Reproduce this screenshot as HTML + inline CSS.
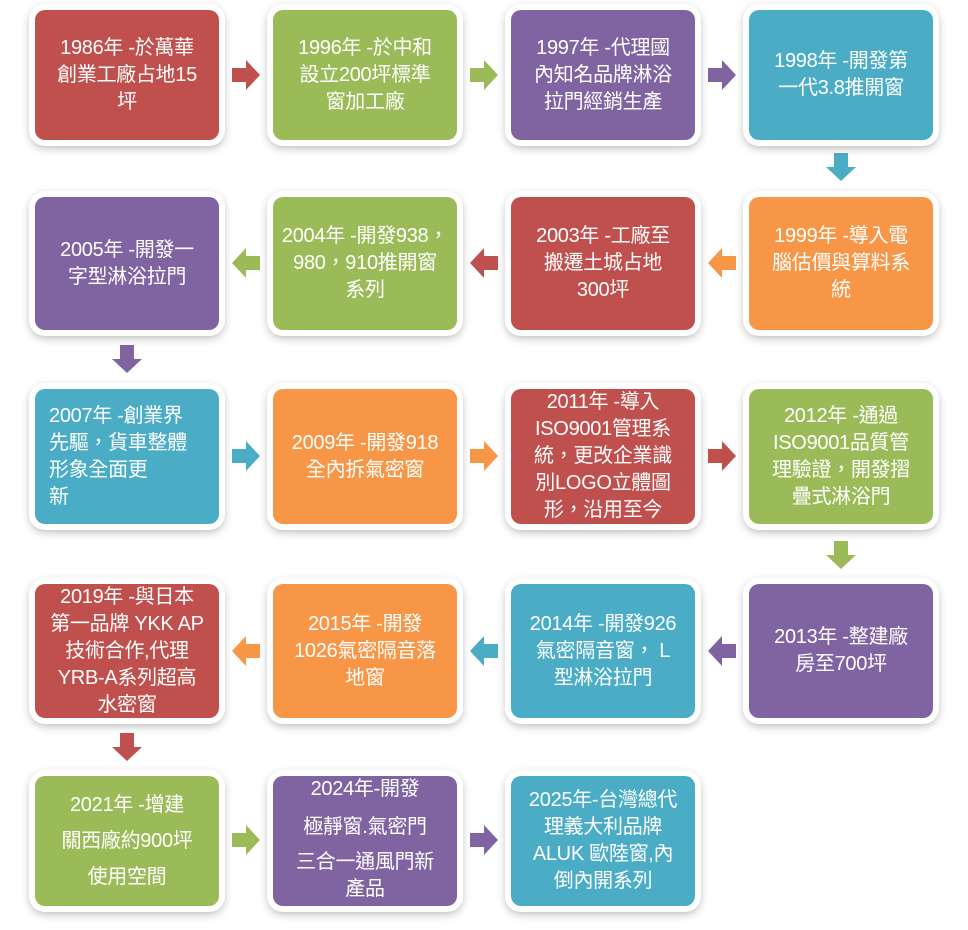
<!DOCTYPE html>
<html><head><meta charset="utf-8"><style>
body{margin:0;width:968px;height:930px;background:#fff;position:relative;overflow:hidden;font-family:"Liberation Sans","Noto Sans CJK TC",sans-serif}
.b{position:absolute;width:184px;border-radius:10px;box-shadow:0 0 0 6px #fff,0 3px 9px 5px rgba(0,0,0,.28);color:#fff;font-size:20px;line-height:27px;display:flex;align-items:center;justify-content:center;text-align:center;box-sizing:border-box;padding:0 2px;white-space:nowrap;letter-spacing:-0.3px}
.r{background:#C0504D}.g{background:#9BBB59}.p{background:#8064A2}.t{background:#4BACC6}.o{background:#F79646}
svg{position:absolute;left:0;top:0}
</style></head><body>
<svg width="968" height="930">
<defs>
<path id="ar" d="M0,-7 H14 V-15 L28,0 L14,15 V7 H0 Z"/>
<path id="al" d="M28,-7 H14 V-15 L0,0 L14,15 V7 H28 Z"/>
<path id="ad" d="M-7,0 V14 H-15 L0,28 L15,14 H7 V0 Z"/>
</defs>
<use href="#ar" x="232" y="75" fill="#C0504D"/>
<use href="#ar" x="470" y="75" fill="#9BBB59"/>
<use href="#ar" x="708" y="75" fill="#8064A2"/>
<use href="#ad" x="841" y="153" fill="#4BACC6"/>
<use href="#al" x="708" y="263" fill="#F79646"/>
<use href="#al" x="470" y="263" fill="#C0504D"/>
<use href="#al" x="232" y="263" fill="#9BBB59"/>
<use href="#ad" x="127" y="345" fill="#8064A2"/>
<use href="#ar" x="232" y="456" fill="#4BACC6"/>
<use href="#ar" x="470" y="456" fill="#F79646"/>
<use href="#ar" x="708" y="456" fill="#C0504D"/>
<use href="#ad" x="841" y="541" fill="#9BBB59"/>
<use href="#al" x="708" y="651" fill="#8064A2"/>
<use href="#al" x="470" y="651" fill="#4BACC6"/>
<use href="#al" x="232" y="651" fill="#F79646"/>
<use href="#ad" x="127" y="733" fill="#C0504D"/>
<use href="#ar" x="232" y="840" fill="#9BBB59"/>
<use href="#ar" x="470" y="840" fill="#8064A2"/>
</svg>
<div class="b r" style="left:35px;top:10px;height:130px">1986年 -於萬華<br>創業工廠占地15<br>坪</div>
<div class="b g" style="left:273px;top:10px;height:130px">1996年 -於中和<br>設立200坪標準<br>窗加工廠</div>
<div class="b p" style="left:511px;top:10px;height:130px">1997年 -代理國<br>內知名品牌淋浴<br>拉門經銷生產</div>
<div class="b t" style="left:749px;top:10px;height:130px">1998年 -開發第<br>一代3.8推開窗</div>
<div class="b p" style="left:35px;top:197px;height:133px">2005年 -開發一<br>字型淋浴拉門</div>
<div class="b g" style="left:273px;top:197px;height:133px">2004年 -開發938，<br>980，910推開窗<br>系列</div>
<div class="b r" style="left:511px;top:197px;height:133px">2003年 -工廠至<br>搬遷土城占地<br>300坪</div>
<div class="b o" style="left:749px;top:197px;height:133px">1999年 -導入電<br>腦估價與算料系<br>統</div>
<div class="b t" style="left:35px;top:389px;height:135px;text-align:left;justify-content:flex-start;padding-left:14px">2007年 -創業界<br>先驅，貨車整體<br>形象全面更<br>新</div>
<div class="b o" style="left:273px;top:389px;height:135px">2009年 -開發918<br>全內拆氣密窗</div>
<div class="b r" style="left:511px;top:389px;height:135px">2011年 -導入<br>ISO9001管理系<br>統，更改企業識<br>別LOGO立體圖<br>形，沿用至今</div>
<div class="b g" style="left:749px;top:389px;height:135px">2012年 -通過<br>ISO9001品質管<br>理驗證，開發摺<br>疊式淋浴門</div>
<div class="b r" style="left:35px;top:584px;height:134px">2019年 -與日本<br>第一品牌 YKK AP<br>技術合作,代理<br>YRB-A系列超高<br>水密窗</div>
<div class="b o" style="left:273px;top:584px;height:134px">2015年 -開發<br>1026氣密隔音落<br>地窗</div>
<div class="b t" style="left:511px;top:584px;height:134px">2014年 -開發926<br>氣密隔音窗， L<br>型淋浴拉門</div>
<div class="b p" style="left:749px;top:584px;height:134px">2013年 -整建廠<br>房至700坪</div>
<div class="b g" style="left:35px;top:776px;height:130px;line-height:36px">2021年 -增建<br>關西廠約900坪<br>使用空間</div>
<div class="b p" style="left:273px;top:776px;height:130px;display:block;padding-top:0"><div style="height:27px;line-height:27px">2024年-開發</div><div style="margin-top:11px;line-height:27px">極靜窗.氣密門</div><div style="margin-top:8px;line-height:27px">三合一通風門新<br>產品</div></div>
<div class="b t" style="left:511px;top:776px;height:130px">2025年-台灣總代<br>理義大利品牌<br>ALUK 歐陸窗,內<br>倒內開系列</div>
</body></html>
